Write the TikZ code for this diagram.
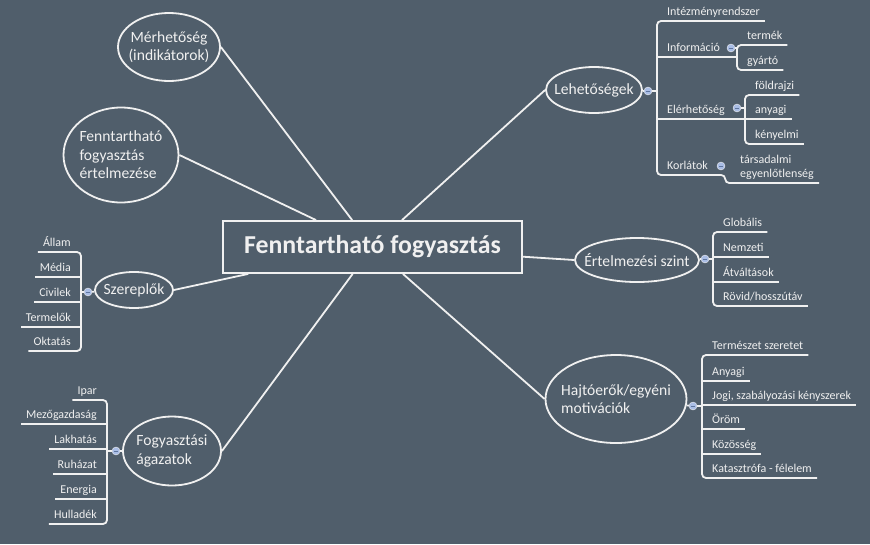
\documentclass[tikz,border=0pt]{standalone}
\usepackage{fontspec}
\setmainfont{Carlito}
\usepackage{xcolor}
\usepackage{tikz}
\usetikzlibrary{shapes.geometric}
\definecolor{slateback}{RGB}{80, 94, 107}
\definecolor{chalk}{RGB}{240, 240, 240}
\definecolor{knobblue}{RGB}{170, 190, 230}
\definecolor{knobline}{RGB}{95, 118, 160}

\tikzset{
    spoke/.style={chalk, line width=1.8pt},
    branch/.style={chalk, line width=1.8pt, rounded corners=4pt},
    hubbox/.style={rectangle, draw=chalk, line width=1.8pt, text=chalk,
        font=\fontsize{25.8}{30}\selectfont\bfseries},
    topic/.style={ellipse, draw=chalk, line width=1.8pt, inner sep=-10pt, text=chalk,
        align=left, font=\fontsize{15.6}{18.5}\selectfont},
    leafR/.style={anchor=south west, inner xsep=5pt, inner ysep=2pt, text depth=3.5pt,
        text=chalk, align=left, font=\fontsize{12}{14}\selectfont},
    leafL/.style={leafR, anchor=south east, align=right},
    knob/.style={circle, fill=knobblue, draw=chalk, line width=0.4pt, minimum size=8pt,
        inner sep=0pt, path picture={\draw[knobline, line width=0.7pt]
        ([xshift=-2pt]path picture bounding box.center) -- ([xshift=2pt]path picture bounding box.center);}}
}

\begin{document}
\begin{tikzpicture}[x=1pt, y=-1pt]
    \fill[slateback] (0,0) rectangle (870,544);
    \useasboundingbox (0,0) rectangle (870,544);

    % Hub and main topics
    \node[hubbox, minimum width=299pt, minimum height=52pt] (hub) at (372.5,247) {Fenntartható fogyasztás};
    \node[topic, minimum width=102pt, minimum height=68pt, align=center] (merh) at (169,47) {Mérhetőség\\(indikátorok)};
    \node[topic, minimum width=115pt, minimum height=95pt] (fert) at (121,155) {Fenntartható\\fogyasztás\\értelmezése};
    \node[topic, minimum width=96pt, minimum height=46pt] (lehet) at (594,90) {Lehetőségek};
    \node[topic, minimum width=124pt, minimum height=44pt] (szint) at (637,260) {Értelmezési szint};
    \node[topic, minimum width=141pt, minimum height=88pt] (hajto) at (616,399) {Hajtóerők/egyéni\\motivációk};
    \node[topic, minimum width=78pt, minimum height=36pt] (szerep) at (134,290) {Szereplők};
    \node[topic, minimum width=98pt, minimum height=69pt] (agazat) at (172,451) {Fogyasztási\\ágazatok};

    \draw[spoke] (hub) -- (merh.east);
    \draw[spoke] (hub) -- (fert.east);
    \draw[spoke] (hub) -- (lehet.west);
    \draw[spoke] (hub) -- (szint.west);
    \draw[spoke] (hub) -- (hajto.west);
    \draw[spoke] (hub) -- (szerep.east);
    \draw[spoke] (hub) -- (agazat.east);

    % Lehetőségek
    \node[leafR] (intez) at (662,21) {Intézményrendszer};
    \node[leafR] (info) at (662,57) {Információ};
    \node[leafR] (elerh) at (662,119) {Elérhetőség};
    \node[leafR] (korl) at (662,175) {Korlátok};
    \node[leafR] (termek) at (742,45) {termék};
    \node[leafR] (gyarto) at (742,70) {gyártó};
    \node[leafR] (foldr) at (750,95) {földrajzi};
    \node[leafR] (anyagi) at (750,119) {anyagi};
    \node[leafR] (kenyel) at (750,144) {kényelmi};
    \node[leafR] (egyen) at (735,183) {társadalmi\\egyenlőtlenség};
    \node[knob] (knobLehet) at (648,91) {};
    \node[knob] (knobInfo) at (731,48) {};
    \node[knob] (knobElerh) at (737,108) {};
    \node[knob] (knobKorl) at (721,166) {};

    \draw[spoke] (lehet) -- (knobLehet);
    \draw[branch] (knobLehet.east) -- ([xshift=-5pt]knobLehet.east -| intez.west);
    \draw[branch] (intez.south east) -- ([xshift=-5pt]intez.south west) -- ([xshift=-5pt]korl.south west)
        -- (korl.south -| knobKorl.east) |- (egyen.south west) -- (egyen.south east);
    \draw[branch] ([xshift=-5pt]info.south west) -- ([xshift=-5pt]info.south -| termek.west);
    \draw[branch] ([xshift=-5pt]elerh.south west) -- ([xshift=-5pt]elerh.south -| anyagi.west);
    \draw[branch] (knobInfo.east) -- ([xshift=-5pt]knobInfo.east -| termek.west);
    \draw[branch] (termek.south east) -- ([xshift=-5pt]termek.south west) -- ([xshift=-5pt]gyarto.south west) -- (gyarto.south east);
    \draw[branch] (knobElerh.east) -- ([xshift=-5pt]knobElerh.east -| foldr.west);
    \draw[branch] (foldr.south east) -- ([xshift=-5pt]foldr.south west) -- ([xshift=-5pt]kenyel.south west) -- (kenyel.south east);
    \draw[branch] ([xshift=-5pt]anyagi.south west) -- (anyagi.south east);

    % Értelmezési szint
    \node[leafR] (glob) at (718,232) {Globális};
    \node[leafR] (nemz) at (718,257) {Nemzeti};
    \node[leafR] (atv) at (718,282) {Átváltások};
    \node[leafR] (rovid) at (718,306) {Rövid/hosszútáv};
    \node[knob] (knobSzint) at (705,259) {};

    \draw[spoke] (szint) -- (knobSzint);
    \draw[branch] (knobSzint.east) -- ([xshift=-5pt]knobSzint.east -| glob.west);
    \draw[branch] (glob.south east) -- ([xshift=-5pt]glob.south west) -- ([xshift=-5pt]rovid.south west) -- (rovid.south east);
    \draw[branch] ([xshift=-5pt]nemz.south west) -- (nemz.south east);
    \draw[branch] ([xshift=-5pt]atv.south west) -- (atv.south east);

    % Hajtóerők
    \node[leafR] (termsz) at (707,355) {Természet szeretet};
    \node[leafR] (anyag) at (707,381) {Anyagi};
    \node[leafR] (jogi) at (707,405) {Jogi, szabályozási kényszerek};
    \node[leafR] (orom) at (707,429) {Öröm};
    \node[leafR] (kozos) at (707,454) {Közösség};
    \node[leafR] (katasz) at (707,478) {Katasztrófa - félelem};
    \node[knob] (knobHajto) at (693,406) {};

    \draw[spoke] (hajto) -- (knobHajto);
    \draw[branch] (knobHajto.east) -- ([xshift=-5pt]knobHajto.east -| termsz.west);
    \draw[branch] (termsz.south east) -- ([xshift=-5pt]termsz.south west) -- ([xshift=-5pt]katasz.south west) -- (katasz.south east);
    \draw[branch] ([xshift=-5pt]anyag.south west) -- (anyag.south east);
    \draw[branch] ([xshift=-5pt]jogi.south west) -- (jogi.south east);
    \draw[branch] ([xshift=-5pt]orom.south west) -- (orom.south east);
    \draw[branch] ([xshift=-5pt]kozos.south west) -- (kozos.south east);

    % Szereplők
    \node[leafL] (allam) at (76,252) {Állam};
    \node[leafL] (media) at (76,277) {Média};
    \node[leafL] (civil) at (76,302) {Civilek};
    \node[leafL] (termel) at (76,327) {Termelők};
    \node[leafL] (oktat) at (76,351) {Oktatás};
    \node[knob] (knobSzerep) at (88,292) {};

    \draw[spoke] (szerep) -- (knobSzerep);
    \draw[branch] (knobSzerep.west) -- ([xshift=5pt]knobSzerep.west -| allam.east);
    \draw[branch] (allam.south west) -- ([xshift=5pt]allam.south east) -- ([xshift=5pt]oktat.south east) -- (oktat.south west);
    \draw[branch] ([xshift=5pt]media.south east) -- (media.south west);
    \draw[branch] ([xshift=5pt]civil.south east) -- (civil.south west);
    \draw[branch] ([xshift=5pt]termel.south east) -- (termel.south west);

    % Fogyasztási ágazatok
    \node[leafL] (ipar) at (102,400) {Ipar};
    \node[leafL] (mezo) at (102,424) {Mezőgazdaság};
    \node[leafL] (lakh) at (102,449) {Lakhatás};
    \node[leafL] (ruh) at (102,474) {Ruházat};
    \node[leafL] (energ) at (102,499) {Energia};
    \node[leafL] (hull) at (102,524) {Hulladék};
    \node[knob] (knobAgazat) at (116,451) {};

    \draw[spoke] (agazat) -- (knobAgazat);
    \draw[branch] (knobAgazat.west) -- ([xshift=5pt]knobAgazat.west -| ipar.east);
    \draw[branch] (ipar.south west) -- ([xshift=5pt]ipar.south east) -- ([xshift=5pt]hull.south east) -- (hull.south west);
    \draw[branch] ([xshift=5pt]mezo.south east) -- (mezo.south west);
    \draw[branch] ([xshift=5pt]lakh.south east) -- (lakh.south west);
    \draw[branch] ([xshift=5pt]ruh.south east) -- (ruh.south west);
    \draw[branch] ([xshift=5pt]energ.south east) -- (energ.south west);
\end{tikzpicture}
\end{document}
